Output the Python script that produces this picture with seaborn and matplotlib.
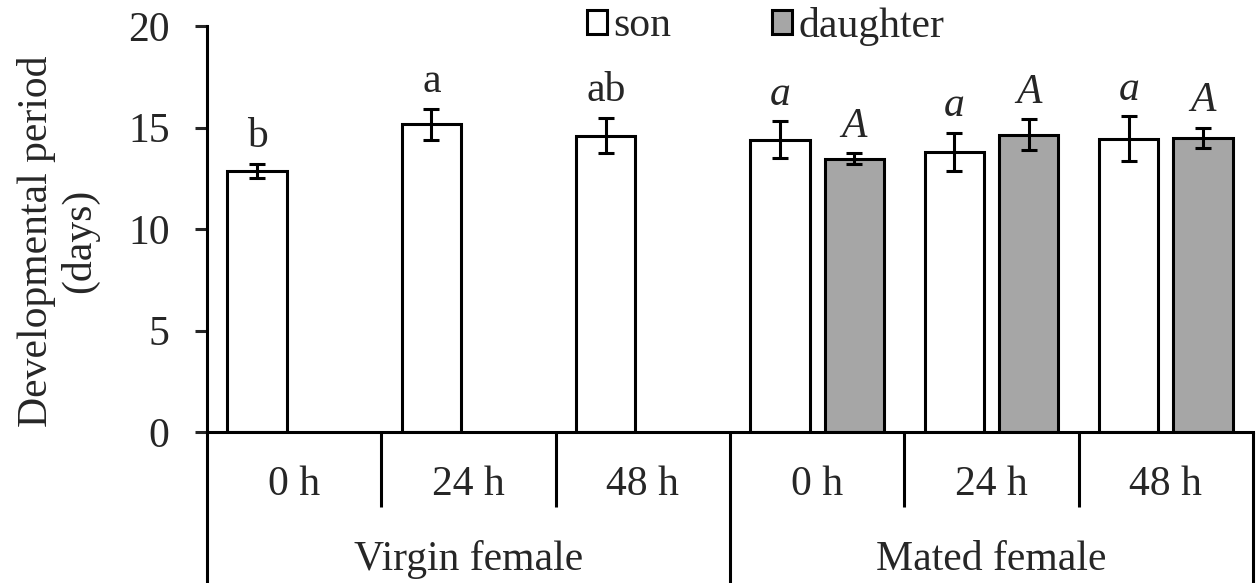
import pandas as pd
import matplotlib.pyplot as plt
import seaborn as sns

# Valores
mating = ["Virgin female"] * 3 + ["Mated female"] * 3
hours = ["0 h", "24 h", "48 h", "0 h", "24 h", "48 h"]
son_mean = [12.85, 15.15, 14.6, 14.4, 13.8, 14.45]
son_err = [0.35, 0.78, 0.88, 0.9, 0.95, 1.1]
son_letters = ["b", "a", "ab", "a", "a", "a"]
daughter_mean = [None, None, None, 13.45, 14.65, 14.5]
daughter_err = [None, None, None, 0.27, 0.75, 0.5]
daughter_letters = ["", "", "", "A", "A", "A"]

sns.set_style("white")
plt.rcParams["font.family"] = ["Liberation Serif", "DejaVu Serif"]
FS = 30

# Tabla larga para seaborn
cond_order = [m + " " + h for m, h in zip(mating, hours)]
rows = []
for i, cond in enumerate(cond_order):
    rows.append({"cond": cond, "offspring": "son", "value": son_mean[i],
                 "err": son_err[i], "letter": son_letters[i]})
    if daughter_mean[i] is not None:
        rows.append({"cond": cond, "offspring": "daughter", "value": daughter_mean[i],
                     "err": daughter_err[i], "letter": daughter_letters[i]})
df = pd.DataFrame(rows)

fig, ax = plt.subplots(figsize=(12.57, 5.83), dpi=100)
fig.subplots_adjust(left=207 / 1257, right=1253 / 1257,
                    bottom=1 - 432 / 583, top=1 - 26 / 583)

sns.barplot(
    data=df, x="cond", y="value", hue="offspring",
    order=cond_order, hue_order=["son", "daughter"],
    palette={"son": "white", "daughter": "#a6a6a6"},
    edgecolor="black", linewidth=2.2, width=0.85, gap=0.2,
    errorbar=None, ax=ax
)

# Barras de error y letras encima de cada barra
lookup = {(r.cond, r.offspring): r for r in df.itertuples()}
for cont, hue in zip(ax.containers, ["son", "daughter"]):
    for bar in cont:
        cx = bar.get_x() + bar.get_width() / 2
        i = int(round(cx))
        r = lookup[(cond_order[i], hue)]
        ax.errorbar(cx, r.value, yerr=r.err, fmt="none", ecolor="black",
                    elinewidth=2.2, capsize=6, capthick=2.2, zorder=5)
        style = "italic" if mating[i] == "Mated female" else "normal"
        ax.annotate(r.letter, (cx, r.value + r.err), xytext=(0, 12),
                    textcoords="offset points", ha="center", va="baseline",
                    fontsize=FS, fontstyle=style)

# Ejes
ax.set_xlim(-0.5, 5.5)
ax.set_ylim(0, 20)
ax.set_yticks([0, 5, 10, 15, 20])
ax.tick_params(axis="y", length=9, width=2.2, pad=18, labelsize=FS,
               direction="out", left=True)
ax.set_xticks([])
ax.set_xlabel("")
ax.set_ylabel("Developmental period\n(days)", fontsize=FS, linespacing=1.15)
ax.yaxis.set_label_coords(-0.103, 0.47)
for s in ["top", "right"]:
    ax.spines[s].set_visible(False)
for s in ["left", "bottom"]:
    ax.spines[s].set_linewidth(2.2)
    ax.spines[s].set_color("black")

# Eje x jerarquico
tr = ax.get_xaxis_transform()
for b in [-0.5, 2.5, 5.5]:
    ax.plot([b, b], [0, -0.372], transform=tr, color="black", lw=2.2,
            clip_on=False, solid_capstyle="butt")
for b in [0.5, 1.5, 3.5, 4.5]:
    ax.plot([b, b], [0, -0.185], transform=tr, color="black", lw=2.2,
            clip_on=False, solid_capstyle="butt")
for i, h in enumerate(hours):
    ax.text(i, -0.155, h, transform=tr, ha="center", va="baseline", fontsize=FS)
for xc, m in [(1, "Virgin female"), (4, "Mated female")]:
    ax.text(xc, -0.34, m, transform=tr, ha="center", va="baseline", fontsize=FS)

# Leyenda
handles, labels = ax.get_legend_handles_labels()
ax.legend(handles, labels, loc="center", bbox_to_anchor=(0.534, 1.0),
          ncol=2, frameon=False, fontsize=FS, handlelength=0.5,
          handleheight=0.5, handletextpad=0.15, columnspacing=2.4,
          borderaxespad=0)

fig.savefig("out.png", dpi=100)
